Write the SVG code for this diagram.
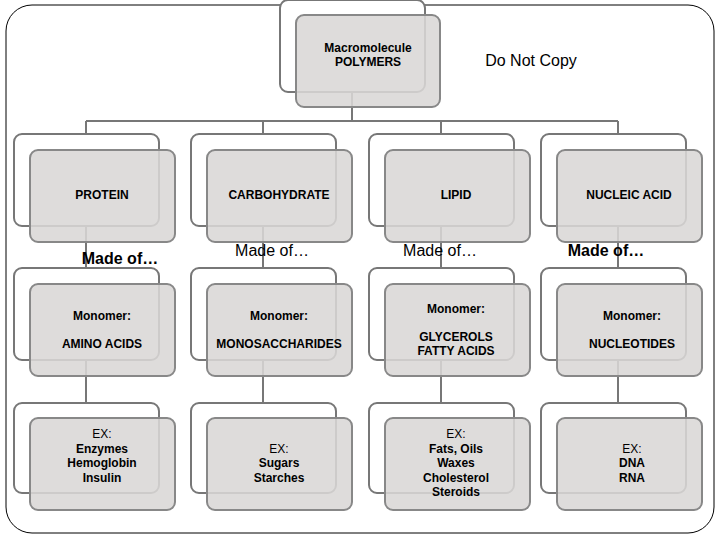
<svg xmlns="http://www.w3.org/2000/svg" width="720" height="540" viewBox="0 0 720 540">
<style>
.w{fill:#fff;stroke:#777;stroke-width:2}
.g{fill:#d9d7d6;fill-opacity:0.88;stroke:#888;stroke-width:2}
.c{stroke:#777;stroke-width:2;fill:none}
text{font-family:"Liberation Sans",Arial,sans-serif;text-anchor:middle;fill:#000}
.b{font-weight:bold;font-size:12px}
.n{font-size:12px}
</style>
<rect width="720" height="540" fill="#fff"/>
<rect x="6" y="5" width="708" height="528" rx="26" fill="none" stroke="#000" stroke-width="1"/>
<g id="connectors">
<path class="c" d="M352 92V121M86 121H618M86 121V268M263 121V268M441 121V268M618 121V268M86 360V403M263 360V403M441 360V403M618 360V403"/>
</g>
<g id="root"><rect class="w" x="280" y="0" width="145" height="92" rx="8"/><rect class="g" x="296" y="15" width="144" height="92" rx="8"/>
<text class="b" x="368" y="52">Macromolecule</text><text class="b" x="368" y="66">POLYMERS</text></g>
<text x="531" y="66" font-size="16">Do Not Copy</text>
<g id="protein"><rect class="w" x="14" y="134" width="145" height="92" rx="8"/><rect class="g" x="30" y="150" width="145" height="92" rx="8"/><text class="b" x="102" y="199">PROTEIN</text></g>
<g id="carb"><rect class="w" x="191" y="134" width="145" height="92" rx="8"/><rect class="g" x="207" y="150" width="145" height="92" rx="8"/><text class="b" x="279" y="199">CARBOHYDRATE</text></g>
<g id="lipid"><rect class="w" x="369" y="134" width="145" height="92" rx="8"/><rect class="g" x="385" y="150" width="145" height="92" rx="8"/><text class="b" x="456" y="199">LIPID</text></g>
<g id="nucleic"><rect class="w" x="541" y="134" width="145" height="92" rx="8"/><rect class="g" x="557" y="150" width="145" height="92" rx="8"/><text class="b" x="629" y="199">NUCLEIC ACID</text></g>
<text x="120" y="264" font-size="16" font-weight="bold">Made of…</text>
<text x="272" y="256" font-size="16">Made of…</text>
<text x="440" y="256" font-size="16">Made of…</text>
<text x="606" y="256" font-size="16" font-weight="bold">Made of…</text>
<g id="m1"><rect class="w" x="14" y="268" width="145" height="92" rx="8"/><rect class="g" x="30" y="284" width="145" height="92" rx="8"/><text class="b" x="102" y="320">Monomer:</text><text class="b" x="102" y="348">AMINO ACIDS</text></g>
<g id="m2"><rect class="w" x="191" y="268" width="145" height="92" rx="8"/><rect class="g" x="207" y="284" width="145" height="92" rx="8"/><text class="b" x="279" y="320">Monomer:</text><text class="b" x="279" y="348">MONOSACCHARIDES</text></g>
<g id="m3"><rect class="w" x="369" y="268" width="145" height="92" rx="8"/><rect class="g" x="385" y="284" width="145" height="92" rx="8"/><text class="b" x="456" y="313">Monomer:</text><text class="b" x="456" y="341">GLYCEROLS</text><text class="b" x="456" y="355">FATTY ACIDS</text></g>
<g id="m4"><rect class="w" x="541" y="268" width="145" height="92" rx="8"/><rect class="g" x="557" y="284" width="145" height="92" rx="8"/><text class="b" x="632" y="320">Monomer:</text><text class="b" x="632" y="348">NUCLEOTIDES</text></g>
<g id="e1"><rect class="w" x="14" y="403" width="145" height="90" rx="8"/><rect class="g" x="30" y="418" width="145" height="92" rx="8"/><text class="n" x="102" y="438">EX:</text><text class="b" x="102" y="453">Enzymes</text><text class="b" x="102" y="467">Hemoglobin</text><text class="b" x="102" y="482">Insulin</text></g>
<g id="e2"><rect class="w" x="191" y="403" width="145" height="90" rx="8"/><rect class="g" x="207" y="418" width="145" height="92" rx="8"/><text class="n" x="279" y="453">EX:</text><text class="b" x="279" y="467">Sugars</text><text class="b" x="279" y="482">Starches</text></g>
<g id="e3"><rect class="w" x="369" y="403" width="145" height="90" rx="8"/><rect class="g" x="385" y="418" width="145" height="92" rx="8"/><text class="n" x="456" y="438">EX:</text><text class="b" x="456" y="453">Fats, Oils</text><text class="b" x="456" y="467">Waxes</text><text class="b" x="456" y="482">Cholesterol</text><text class="b" x="456" y="496">Steroids</text></g>
<g id="e4"><rect class="w" x="541" y="403" width="145" height="90" rx="8"/><rect class="g" x="557" y="418" width="145" height="92" rx="8"/><text class="n" x="632" y="453">EX:</text><text class="b" x="632" y="467">DNA</text><text class="b" x="632" y="482">RNA</text></g>
</svg>
